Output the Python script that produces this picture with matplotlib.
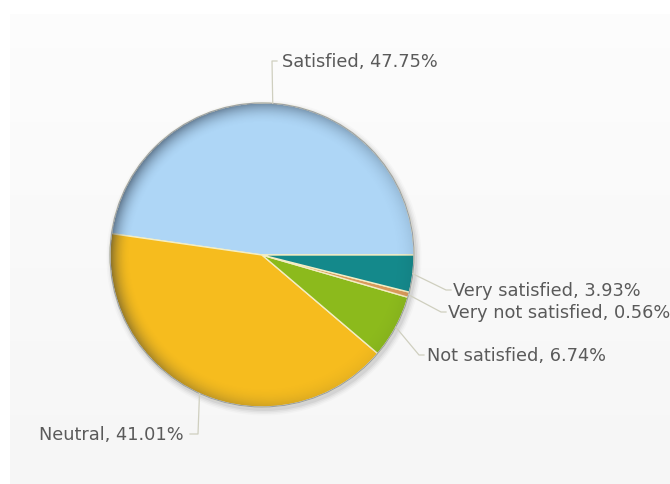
import numpy as np
import matplotlib
matplotlib.use("Agg")
import matplotlib.pyplot as plt
from matplotlib.patches import Circle

# satisfaction survey shares, in drawing order (counter-clockwise from 3 o'clock)
categories = ["Satisfied", "Neutral", "Not satisfied", "Very not satisfied", "Very satisfied"]
shares = [47.75, 41.01, 6.74, 0.56, 3.93]
colors = ["#aed6f6", "#f6bc1e", "#8cba1c", "#d99a5a", "#14898b"]

W, H = 670, 485
CX, CY, R = 262, H - 256, 152

# leader end and text anchor, in pixel coords from top-left
label_pos = {
    "Satisfied": ((272, 62), (279, 62), "left"),
    "Neutral": ((198, 435), (187, 435), "right"),
    "Not satisfied": ((419, 356), (424, 356), "left"),
    "Very not satisfied": ((441, 313), (445, 313), "left"),
    "Very satisfied": ((446, 291), (450, 291), "left"),
}

fig = plt.figure(figsize=(W / 100, H / 100), dpi=100)
ax = fig.add_axes([0, 0, 1, 1])
ax.set_xlim(0, W)
ax.set_ylim(0, H)
ax.axis("off")

# light panel behind the chart
grad = np.linspace(0.99, 0.965, 200).reshape(-1, 1)
panel = np.dstack([grad, grad, grad])
ax.imshow(panel, extent=(10, W, 0, H - 15), aspect="auto", zorder=0)

# soft drop shadow
for i, a in enumerate([0.05, 0.04, 0.03, 0.02]):
    ax.add_patch(Circle((CX + 2, CY - 3), R + 1 + i * 1.5, color="black",
                        alpha=a, lw=0, zorder=1))

wedges, _ = ax.pie(shares, colors=colors, startangle=0, counterclock=True,
                   center=(CX, CY), radius=R, frame=True,
                   wedgeprops=dict(edgecolor="#f4eec4", linewidth=1.0))
for w in wedges:
    w.set_zorder(2)
ax.set_xlim(0, W)
ax.set_ylim(0, H)
ax.set_aspect("equal")

# darker rim to give the disc a bevelled look
n = 400
xs = np.linspace(CX - R, CX + R, n)
ys = np.linspace(CY - R, CY + R, n)
gx, gy = np.meshgrid(xs, ys)
rr = np.hypot(gx - CX, gy - CY) / R
ang = np.arctan2(gy - CY, gx - CX)
light = 0.55 + 0.45 * np.cos(ang - np.deg2rad(150))
rim = np.clip((rr - 0.86) / 0.14, 0, 1) ** 2.2
alpha = np.where(rr <= 1, rim * light * 0.55, 0)
shade = np.zeros((n, n, 4))
shade[..., 0] = 0.12
shade[..., 1] = 0.16
shade[..., 2] = 0.22
shade[..., 3] = alpha
img = ax.imshow(shade, extent=(CX - R, CX + R, CY - R, CY + R), origin="lower",
                zorder=3, interpolation="bilinear")
img.set_clip_path(Circle((CX, CY), R, transform=ax.transData))
ax.add_patch(Circle((CX, CY), R, fill=False, edgecolor="#9aa0a8", lw=0.8, zorder=4))

# leader lines and labels
start = 0.0
for name, share in zip(categories, shares):
    span = share * 3.6
    mid = np.deg2rad(start + span / 2)
    start += span
    px, py = CX + R * np.cos(mid), CY + R * np.sin(mid)
    (bx, by), (tx, ty), ha = label_pos[name]
    stub = -8 if ha == "right" else 5
    ax.plot([px, bx, bx + stub], [py, H - by, H - by],
            color="#cfcfbf", lw=0.9, zorder=5)
    ax.text(tx + (3 if ha == "left" else -3), H - ty, f"{name}, {share:.2f}%",
            ha=ha, va="center", fontsize=12.8, color="#5a5a5a", zorder=6)

fig.savefig("out.png", dpi=100)
